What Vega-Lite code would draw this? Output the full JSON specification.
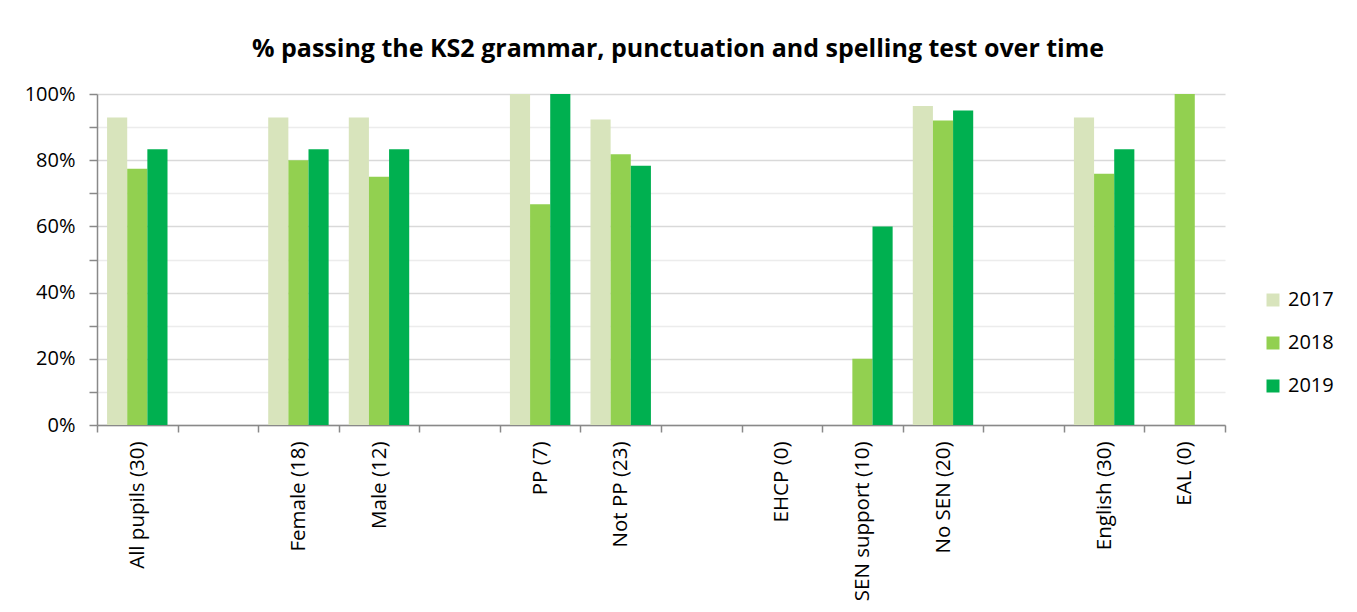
{
  "$schema": "https://vega.github.io/schema/vega-lite/v6.json",
  "width": 1128,
  "height": 331,
  "autosize": "none",
  "padding": {"left": 97, "top": 94, "right": 132, "bottom": 187},
  "background": "white",
  "config": {"font": "Open Sans", "view": {"stroke": null}},
  "title": {"text": "% passing the KS2 grammar, punctuation and spelling test over time", "fontSize": 25, "fontWeight": "bold", "color": "#000000", "offset": 22, "dx": 17, "anchor": "middle"},
  "data": {"values": [
    {"group": "All pupils (30)", "year": "2017", "pct": 0.929},
    {"group": "All pupils (30)", "year": "2018", "pct": 0.774},
    {"group": "All pupils (30)", "year": "2019", "pct": 0.833},
    {"group": "Female (18)", "year": "2017", "pct": 0.929},
    {"group": "Female (18)", "year": "2018", "pct": 0.80},
    {"group": "Female (18)", "year": "2019", "pct": 0.833},
    {"group": "Male (12)", "year": "2017", "pct": 0.929},
    {"group": "Male (12)", "year": "2018", "pct": 0.75},
    {"group": "Male (12)", "year": "2019", "pct": 0.833},
    {"group": "PP (7)", "year": "2017", "pct": 1.0},
    {"group": "PP (7)", "year": "2018", "pct": 0.667},
    {"group": "PP (7)", "year": "2019", "pct": 1.0},
    {"group": "Not PP (23)", "year": "2017", "pct": 0.923},
    {"group": "Not PP (23)", "year": "2018", "pct": 0.818},
    {"group": "Not PP (23)", "year": "2019", "pct": 0.783},
    {"group": "SEN support (10)", "year": "2018", "pct": 0.20},
    {"group": "SEN support (10)", "year": "2019", "pct": 0.60},
    {"group": "No SEN (20)", "year": "2017", "pct": 0.964},
    {"group": "No SEN (20)", "year": "2018", "pct": 0.92},
    {"group": "No SEN (20)", "year": "2019", "pct": 0.95},
    {"group": "English (30)", "year": "2017", "pct": 0.929},
    {"group": "English (30)", "year": "2018", "pct": 0.759},
    {"group": "English (30)", "year": "2019", "pct": 0.833},
    {"group": "EAL (0)", "year": "2018", "pct": 1.0}
  ]},
  "mark": {"type": "bar"},
  "encoding": {
    "x": {
      "field": "group", "type": "nominal", "sort": null,
      "scale": {"domain": ["All pupils (30)", "gap1", "Female (18)", "Male (12)", "gap2", "PP (7)", "Not PP (23)", "gap3", "EHCP (0)", "SEN support (10)", "No SEN (20)", "gap4", "English (30)", "EAL (0)"], "paddingInner": 0, "paddingOuter": 0},
      "axis": {
        "title": null,
        "labelExpr": "indexof(datum.label, 'gap') == 0 ? '' : datum.label",
        "labelAngle": -90, "labelAlign": "right", "labelBaseline": "middle",
        "labelFontSize": 20.5, "labelColor": "#000000", "labelPadding": 9,
        "tickBand": "extent", "tickSize": 7, "tickColor": "#898989", "tickWidth": 1.5,
        "domainColor": "#898989", "domainWidth": 1.5, "grid": false
      }
    },
    "xOffset": {"field": "year", "type": "nominal", "scale": {"domain": ["2017", "2018", "2019"], "paddingInner": 0, "paddingOuter": 0.5}},
    "y": {
      "field": "pct", "type": "quantitative",
      "scale": {"domain": [0, 1], "nice": false},
      "axis": {
        "title": null, "format": ".0%",
        "values": [0, 0.1, 0.2, 0.3, 0.4, 0.5, 0.6, 0.7, 0.8, 0.9, 1.0],
        "labelExpr": "round(datum.value * 10) % 2 == 0 ? datum.label : ''",
        "labelFontSize": 20, "labelColor": "#000000", "labelPadding": 14,
        "tickSize": 8, "tickColor": "#898989", "tickWidth": 1.5,
        "domainColor": "#898989", "domainWidth": 1.5,
        "grid": true,
        "gridColor": {"condition": {"test": "round(datum.value * 10) % 2 == 0", "value": "#d9d9d9"}, "value": "#ececec"},
        "gridWidth": 1.5
      }
    },
    "color": {
      "field": "year", "type": "nominal",
      "scale": {"domain": ["2017", "2018", "2019"], "range": ["#d8e4bc", "#92d050", "#00b050"]},
      "legend": {
        "title": null, "orient": "none", "legendX": 1166, "legendY": 196,
        "symbolType": "square", "symbolSize": 169, "symbolStrokeWidth": 0,
        "labelFontSize": 20, "labelColor": "#000000", "labelOffset": 5, "rowPadding": 23
      }
    }
  }
}
